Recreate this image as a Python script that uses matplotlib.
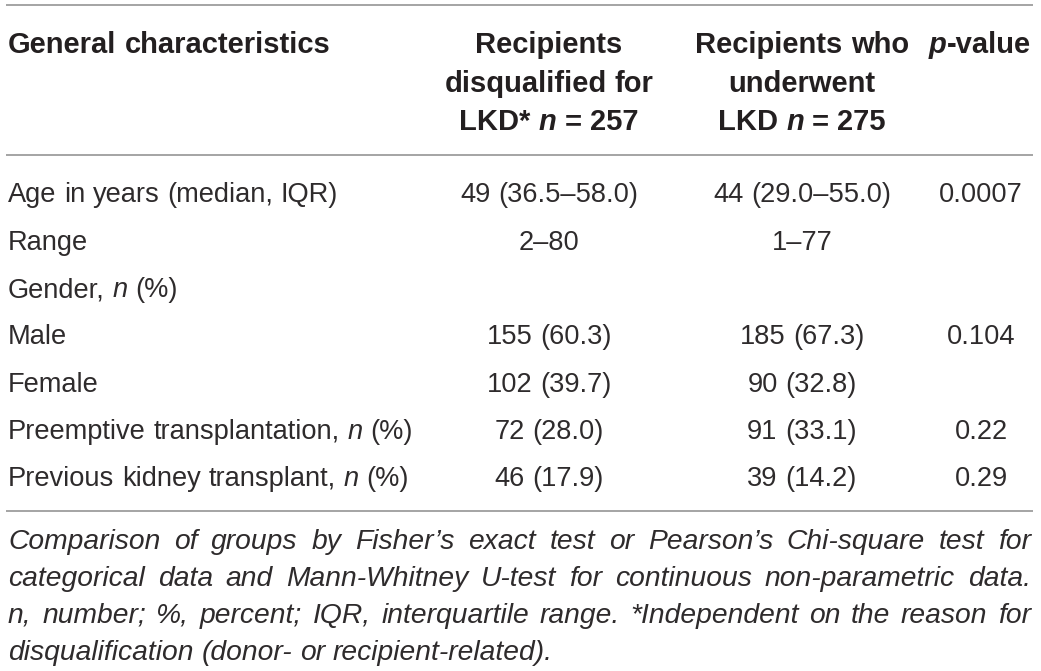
import re
import matplotlib
matplotlib.use('Agg')
import matplotlib.pyplot as plt

# table content (underscores mark italic pieces)
header_cols = [
    ["General characteristics"],
    ["Recipients", "disqualified for", "LKD* _n_ = 257"],
    ["Recipients who", "underwent", "LKD _n_ = 275"],
    ["_p_-value"],
]
row_labels = [
    "Age in years (median, IQR)",
    "Range",
    "Gender, _n_ (%)",
    "Male",
    "Female",
    "Preemptive transplantation, _n_ (%)",
    "Previous kidney transplant, _n_ (%)",
]
disqualified = ["49 (36.5–58.0)", "2–80", "", "155 (60.3)", "102 (39.7)", "72 (28.0)", "46 (17.9)"]
underwent = ["44 (29.0–55.0)", "1–77", "", "185 (67.3)", "90 (32.8)", "91 (33.1)", "39 (14.2)"]
p_values = ["0.0007", "", "", "0.104", "", "0.22", "0.29"]

footnote_lines = [
    "Comparison of groups by Fisher’s exact test or Pearson’s Chi-square test for",
    "categorical data and Mann-Whitney U-test for continuous non-parametric data.",
    "n, number; %, percent; IQR, interquartile range. *Independent on the reason for",
    "disqualification (donor- or recipient-related).",
]

FAMILY = ['Liberation Sans', 'DejaVu Sans']
INK = '#231f20'
BODY_INK = '#2e2b2c'
RULE = '#a4a4a4'

fig = plt.figure(figsize=(10.41, 6.71), dpi=100)
ax = fig.add_axes([0, 0, 1, 1])
ax.set_xlim(0, 1041)
ax.set_ylim(671, 0)
ax.axis('off')
renderer = fig.canvas.get_renderer()


def text_width(s, size, weight, style):
    t = ax.text(0, 0, s, fontsize=size, fontweight=weight, fontstyle=style, family=FAMILY)
    w = t.get_window_extent(renderer).width
    t.remove()
    return w


def parse(s):
    tokens = []
    for tok in s.split(' '):
        segs = []
        for part in re.split(r'(_[^_]+_)', tok):
            if not part:
                continue
            if part.startswith('_') and part.endswith('_'):
                segs.append((part[1:-1], True))
            else:
                segs.append((part, False))
        tokens.append(segs)
    return tokens


def draw_cell(s, x, y, size, weight='normal', align='left', color=INK):
    if not s:
        return
    tokens = parse(s)
    space = text_width('n n', size, weight, 'normal') - text_width('nn', size, weight, 'normal')
    widths = []
    for segs in tokens:
        ws = []
        for txt, it in segs:
            ws.append(text_width(txt, size, weight, 'italic' if it else 'normal'))
        widths.append(ws)
    total = sum(sum(ws) for ws in widths) + space * (len(tokens) - 1)
    if align == 'center':
        cx = x - total / 2
    elif align == 'right':
        cx = x - total
    else:
        cx = x
    for segs, ws in zip(tokens, widths):
        for (txt, it), w in zip(segs, ws):
            ax.text(cx, y, txt, fontsize=size, fontweight=weight,
                    fontstyle='italic' if it else 'normal',
                    family=FAMILY, color=color, ha='left', va='baseline')
            cx += w
        cx += space


def draw_justified(line, x0, x1, y, size, justify=True):
    words = line.split(' ')
    ws = [text_width(w, size, 'normal', 'italic') for w in words]
    space = text_width('n n', size, 'normal', 'italic') - text_width('nn', size, 'normal', 'italic')
    if justify and len(words) > 1:
        gap = (x1 - x0 - sum(ws)) / (len(words) - 1)
    else:
        gap = space
    cx = x0
    for w, wd in zip(words, ws):
        ax.text(cx, y, w, fontsize=size, fontstyle='italic', family=FAMILY,
                color=BODY_INK, ha='left', va='baseline')
        cx += wd + gap


# rules
for yr in (5, 155, 511):
    ax.plot([6, 1033], [yr, yr], color=RULE, lw=1.4, solid_capstyle='butt')

col_x = [8, 549, 802, 980]
col_align = ['left', 'center', 'center', 'center']

# header
head_base = [53, 91.5, 130]
for ci, lines in enumerate(header_cols):
    for li, s in enumerate(lines):
        draw_cell(s, col_x[ci], head_base[li], 21, weight='bold', align=col_align[ci])

# body
row0, step = 202.5, 47.3
for i in range(len(row_labels)):
    y = row0 + i * step
    draw_cell(row_labels[i], col_x[0], y, 19.6, color=BODY_INK)
    draw_cell(disqualified[i], col_x[1], y, 19.6, align='center', color=BODY_INK)
    draw_cell(underwent[i], col_x[2], y, 19.6, align='center', color=BODY_INK)
    draw_cell(p_values[i], col_x[3] + 1, y, 19.6, align='center', color=BODY_INK)

# footnote
foot_base = [549, 586, 623, 660]
for i, line in enumerate(footnote_lines):
    draw_justified(line, 8, 1031, foot_base[i], 20.3, justify=(i < len(footnote_lines) - 1))

fig.savefig('out.png', dpi=100, facecolor='white')
